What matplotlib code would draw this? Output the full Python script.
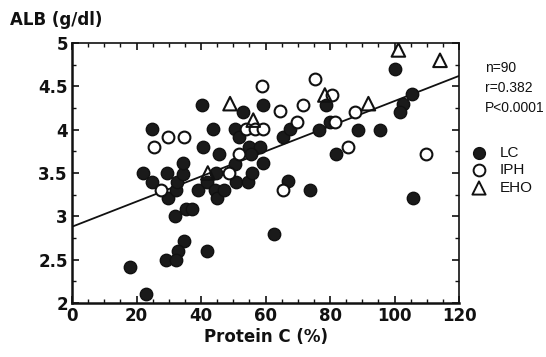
import matplotlib
matplotlib.use("Agg")
import matplotlib.pyplot as plt
import numpy as np

# LC (filled circles)
lc_x = [18.0, 22.8, 22.0, 24.8, 24.7, 29.4, 29.9, 32.2, 32.5, 34.3, 34.5, 32.0,
        35.3, 37.1, 34.7, 33.0, 29.1, 32.2, 42.0, 39.2, 41.8, 44.7, 44.3, 44.9,
        47.1, 50.7, 54.7, 55.7, 62.7, 40.5, 40.2, 43.8, 45.6, 52.9, 50.5, 51.7,
        50.5, 55.0, 58.3, 55.5, 59.3, 59.1, 65.3, 100.2, 78.8, 105.3, 102.5, 101.7,
        67.6, 76.7, 80.0, 88.8, 95.5, 81.9, 67.1, 73.8, 105.6]
lc_y = [2.41, 2.10, 3.50, 3.40, 4.01, 3.50, 3.21, 3.30, 3.40, 3.49, 3.61, 3.00,
        3.09, 3.09, 2.72, 2.60, 2.50, 2.50, 2.60, 3.30, 3.40, 3.50, 3.30, 3.21,
        3.30, 3.40, 3.40, 3.50, 2.80, 3.80, 4.29, 4.01, 3.72, 4.20, 4.01, 3.92,
        3.60, 3.80, 3.80, 3.72, 4.29, 3.61, 3.91, 4.70, 4.29, 4.41, 4.30, 4.20,
        4.01, 4.00, 4.09, 4.00, 4.00, 3.72, 3.41, 3.30, 3.21]

# IPH (open circles)
iph_x = [27.6, 48.8, 25.5, 29.9, 34.7, 51.9, 54.0, 56.7, 59.2, 58.8, 64.4, 75.3,
         80.5, 71.5, 87.6, 69.7, 81.6, 85.5, 109.8, 65.5]
iph_y = [3.30, 3.50, 3.80, 3.91, 3.91, 3.72, 4.01, 4.01, 4.01, 4.50, 4.21, 4.58,
         4.40, 4.29, 4.20, 4.09, 4.09, 3.80, 3.72, 3.30]

# EHO (open triangles)
eho_x = [42.1, 49.0, 56.2, 78.4, 91.9, 101.2, 114.1]
eho_y = [3.50, 4.30, 4.11, 4.40, 4.30, 4.92, 4.80]

# regression line
reg_intercept = 2.88
reg_slope = 0.0145

x_ticks = [0, 20, 40, 60, 80, 100, 120]
y_ticks = [2, 2.5, 3, 3.5, 4, 4.5, 5]
y_tick_labels = ["2", "2.5", "3", "3.5", "4", "4.5", "5"]
legend_names = ["LC", "IPH", "EHO"]

fig = plt.figure(figsize=(5.46, 3.57), dpi=100)
ax = fig.add_axes([0.1319, 0.1513, 0.8407 - 0.1319, 0.8796 - 0.1513])

ink = "#111111"
ax.scatter(lc_x, lc_y, s=80, facecolor="#1a1a1a", edgecolor=ink, linewidths=1.0, zorder=3)
ax.scatter(iph_x, iph_y, s=72, facecolor="white", edgecolor=ink, linewidths=1.5, zorder=4)
ax.scatter(eho_x, eho_y, s=95, marker="^", facecolor="none", edgecolor=ink, linewidths=1.5, zorder=4)

xl = np.array([0, 120])
ax.plot(xl, reg_intercept + reg_slope * xl, color=ink, lw=1.3, zorder=2)

ax.set_xlim(0, 120)
ax.set_ylim(2, 5)
ax.set_xticks(x_ticks)
ax.set_xticks(np.arange(0, 121, 5), minor=True)
ax.set_yticks(y_ticks)
ax.set_yticklabels(y_tick_labels)
ax.set_yticks(np.arange(2, 5.01, 0.25), minor=True)

for lab in ax.get_xticklabels() + ax.get_yticklabels():
    lab.set_fontsize(12)
    lab.set_fontweight("bold")
    lab.set_color(ink)

ax.tick_params(axis="both", which="major", direction="out", length=5, width=1.2, color=ink, pad=3)
ax.tick_params(axis="both", which="minor", direction="out", length=3, width=1.0, color=ink)
ax.tick_params(top=True, which="both", direction="in")
ax.tick_params(axis="y", right=True, which="both")

for side in ["left", "bottom"]:
    ax.spines[side].set_linewidth(1.8)
    ax.spines[side].set_color(ink)
for side in ["top", "right"]:
    ax.spines[side].set_linewidth(1.2)
    ax.spines[side].set_color(ink)

ax.set_xlabel("Protein C (%)", fontsize=12, fontweight="bold", color=ink, labelpad=2)
fig.text(10 / 546, 1 - 20 / 357, "ALB (g/dl)", fontsize=12, fontweight="bold", color=ink,
         ha="left", va="center")

fig.text(485 / 546, 1 - 61 / 357, "n=90\nr=0.382\nP<0.0001", fontsize=10,
         family="Liberation Sans", color=ink, ha="left", va="top", linespacing=1.55)

# legend
leg_x = 479
lab_x = 500
ys = [153, 170, 188]
styles = [dict(marker="o", s=72, facecolor="#1a1a1a", edgecolor=ink),
          dict(marker="o", s=72, facecolor="white", edgecolor=ink, linewidths=1.4),
          dict(marker="^", s=90, facecolor="none", edgecolor=ink, linewidths=1.4)]
for name, py, style in zip(legend_names, ys, styles):
    fx, fy = leg_x / 546, 1 - py / 357
    fig.text(lab_x / 546, fy, name, fontsize=11, family="Liberation Sans", color=ink,
             ha="left", va="center")
    ax.scatter([fx], [fy], transform=fig.transFigure, clip_on=False, zorder=5, **style)

fig.savefig("out.png", dpi=100)
